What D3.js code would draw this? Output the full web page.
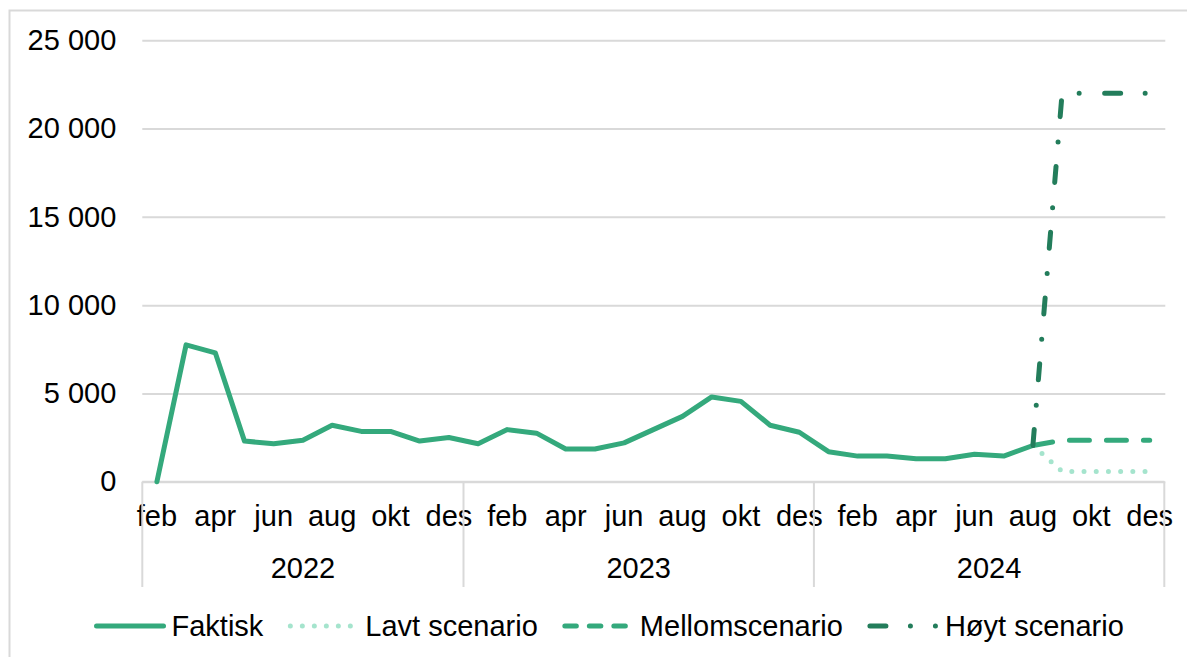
<!DOCTYPE html>
<html lang="no">
<head>
    <meta charset="UTF-8">
    <title>Faktisk og scenarioer</title>
    <script src="https://cdn.jsdelivr.net/npm/d3@7"></script>
    <style>
        body { margin: 0; background: #fff; }
        text { font-family: "Liberation Sans", Arial, sans-serif; fill: #000; }
    </style>
</head>
<body>
    <div id="container"></div>

    <script>
        //month categories, feb 2022 - des 2024
        const months = ["feb", "mar", "apr", "mai", "jun", "jul", "aug", "sep", "okt", "nov", "des",
            "jan", "feb", "mar", "apr", "mai", "jun", "jul", "aug", "sep", "okt", "nov", "des",
            "jan", "feb", "mar", "apr", "mai", "jun", "jul", "aug", "sep", "okt", "nov", "des"]
        const years = ["2022", "2023", "2024"]
        const monthsPerYear = [11, 12, 12]
        const yTicks = [0, 5000, 10000, 15000, 20000, 25000]

        //actual values up to aug 2024
        const faktisk = [0, 7750, 7300, 2300, 2150, 2350, 3200, 2850, 2850, 2300, 2500,
            2150, 2950, 2750, 1850, 1850, 2200, 2950, 3700, 4800, 4550, 3200, 2800,
            1700, 1450, 1450, 1300, 1300, 1550, 1450, 2050]
        //scenarios, aug 2024 - des 2024
        const lavt = [2050, 580, 580, 580, 580]
        const mellom = [2050, 2350, 2350, 2350, 2350]
        const hoyt = [2050, 22000, 22000, 22000, 22000]

        const w = 1187, h = 657
        const mLeft = 142.3, mRight = 1164.3, mTop = 40.3, mBottom = 481.7
        const grid = "#d9d9d9"

        const svg = d3.create("svg").attr("width", w).attr("height", h)

        //outer frame (only top and left edge visible)
        svg.append("rect").attr("x", 9.5).attr("y", 10.5).attr("width", w + 20).attr("height", h + 20)
            .attr("fill", "none").attr("stroke", grid).attr("stroke-width", 2)

        const x = d3.scaleBand().domain(d3.range(months.length)).range([mLeft, mRight])
        const xc = i => x(i) + x.bandwidth() / 2
        const y = d3.scaleLinear([0, 25000], [mBottom, mTop])

        //gridlines + y labels
        const fmt = v => d3.format(",")(v).replace(/,/g, " ")
        const yAx = d3.axisLeft(y).tickValues(yTicks).tickSize(-(mRight - mLeft + 1)).tickPadding(26).tickFormat(fmt)
        svg.append("g").attr("transform", `translate(${mLeft},0)`).call(yAx)
            .call(g => g.select(".domain").remove())
            .call(g => g.selectAll(".tick line").attr("stroke", grid).attr("stroke-width", 2))
            .call(g => g.selectAll(".tick text").attr("font-size", 29).attr("fill", "#000")
                .attr("font-family", "Liberation Sans, Arial, sans-serif"))

        //x axis line
        svg.append("line").attr("x1", mLeft).attr("x2", mRight).attr("y1", mBottom).attr("y2", mBottom)
            .attr("stroke", grid).attr("stroke-width", 2)

        //month labels, every other month
        svg.append("g").selectAll("text").data(months).join("text")
            .filter((d, i) => i % 2 === 0)
            .attr("x", (d, i) => xc(i * 2)).attr("y", 526)
            .attr("text-anchor", "middle").attr("font-size", 29).text(d => d)

        //year separators + labels
        const yearStart = d3.cumsum([0, ...monthsPerYear])
        const edge = i => i < months.length ? x(i) : mRight
        svg.append("g").selectAll("line").data(yearStart).join("line")
            .attr("x1", d => edge(d)).attr("x2", d => edge(d))
            .attr("y1", mBottom).attr("y2", 587).attr("stroke", grid).attr("stroke-width", 2)
        svg.append("g").selectAll("text").data(years).join("text")
            .attr("x", (d, i) => (edge(yearStart[i]) + edge(yearStart[i + 1])) / 2)
            .attr("y", 578).attr("text-anchor", "middle").attr("font-size", 29).text(d => d)

        //series
        const start = faktisk.length - 1
        const series = [
            { name: "Faktisk", values: faktisk.map((v, i) => [i, v]), color: "#34a97c", dash: null, legDash: null },
            { name: "Lavt scenario", values: lavt.map((v, i) => [start + i, v]), color: "#a5e4cd", dash: "0,12.2", legDash: "0,12" },
            { name: "Mellomscenario", values: mellom.map((v, i) => [start + i, v]), color: "#34a97c", dash: "20,17", legDash: "11.5,13" },
            { name: "Høyt scenario", values: hoyt.map((v, i) => [start + i, v]), color: "#237d5b", dash: "16,24.5,0,25.5", legDash: "16,24.5,0,25,0,100" }
        ]
        const line = d3.line().x(d => xc(d[0])).y(d => y(d[1]))
        svg.append("g").selectAll("path").data(series).join("path")
            .attr("d", d => line(d.values)).attr("fill", "none")
            .attr("stroke", d => d.color).attr("stroke-width", 5)
            .attr("stroke-linecap", "round").attr("stroke-linejoin", "round")
            .attr("stroke-dasharray", d => d.dash)

        document.getElementById("container").append(svg.node())

        //legend (after attach so text can be measured)
        const leg = svg.append("g")
        let lx = 96.5
        series.forEach(s => {
            leg.append("line").attr("x1", lx).attr("x2", lx + 67).attr("y1", 626).attr("y2", 626)
                .attr("stroke", s.color).attr("stroke-width", 5).attr("stroke-linecap", "round")
                .attr("stroke-dasharray", s.legDash)
            const t = leg.append("text").attr("x", lx + 75).attr("y", 636).attr("font-size", 29).text(s.name)
            lx += 75 + t.node().getComputedTextLength() + 27
        })
    </script>
</body>
</html>
